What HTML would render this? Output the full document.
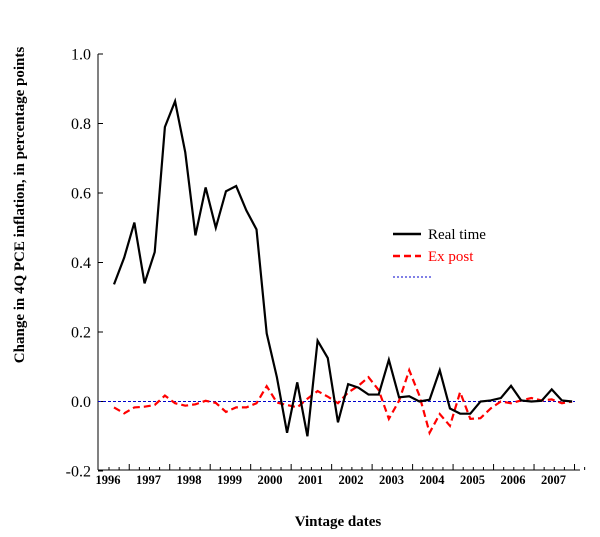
<!DOCTYPE html>
<html><head><meta charset="utf-8"><style>
body{margin:0;background:#fff;}
svg text{font-family:"Liberation Serif",serif;}
</style></head><body>
<svg id="c" width="600" height="532"></svg>
<script>
const years=["1996","1997","1998","1999","2000","2001","2002","2003","2004","2005","2006","2007"];
const yTicks=[-0.2,0,0.2,0.4,0.6,0.8,1.0];
const realTime=[0.337,0.414,0.515,0.34,0.43,0.79,0.864,0.717,0.478,0.616,0.50,0.605,0.62,0.55,0.495,0.196,0.07,-0.09,0.055,-0.10,0.175,0.125,-0.06,0.05,0.04,0.02,0.02,0.12,0.012,0.015,0,0.005,0.09,-0.02,-0.035,-0.035,0,0.003,0.01,0.045,0.003,0,0.002,0.035,0.003,0];
const exPost=[-0.017,-0.034,-0.017,-0.015,-0.01,0.017,-0.005,-0.012,-0.008,0.002,-0.004,-0.03,-0.017,-0.017,-0.005,0.044,-0.003,-0.01,-0.017,0.008,0.03,0.014,-0.005,0.026,0.045,0.07,0.033,-0.05,0.002,0.09,0.017,-0.09,-0.036,-0.07,0.027,-0.05,-0.048,-0.02,0,-0.005,0.003,0.01,0.003,0.006,-0.005,0];
const NS="http://www.w3.org/2000/svg";
const svg=document.getElementById('c');
function mk(t,a,p){const e=document.createElementNS(NS,t);for(const k in a)e.setAttribute(k,a[k]);(p||svg).appendChild(e);return e;}
const y=v=>401.5-v*347.5;
const x=i=>114+i*10.18;
const yearX=j=>108+j*40.5;
let e=mk('line',{x1:98,y1:54,x2:98,y2:470,stroke:'#000','stroke-width':1});

e=mk('line',{x1:98,y1:470,x2:580,y2:470,stroke:'#000','stroke-width':1});

yTicks.forEach(v=>{
 mk('line',{x1:98,y1:y(v),x2:103,y2:y(v),stroke:'#000'});
 const t=mk('text',{x:91,y:y(v)+5.5,'text-anchor':'end','font-size':16});t.textContent=v.toFixed(1);
 
});
for(let k=0;k<48;k++){const xx=109+k*10.12;const major=(k%4===2);mk('line',{x1:xx,y1:470,x2:xx,y2:major?464:467,stroke:'#000'});}
years.forEach((yr,j)=>{const t=mk('text',{x:yearX(j),y:484,'text-anchor':'middle','font-size':12.5,'font-weight':'bold'});t.textContent=yr;
 });
e=mk('line',{x1:98,y1:y(0),x2:575,y2:y(0),stroke:'#0000cc','stroke-width':1,'stroke-dasharray':'3,2'});

function series(d,col,dash,name){const p=mk('polyline',{points:d.map((v,i)=>x(i)+','+y(v)).join(' '),fill:'none',stroke:col,'stroke-width':2.2,'stroke-dasharray':dash||'none'});
 }
series(exPost,'#ff0000','7,4','ex-post-line');
series(realTime,'#000','','real-time-line');
const lg=mk('g',{});
mk('line',{x1:393,y1:234,x2:421,y2:234,stroke:'#000','stroke-width':2.5},lg);
let t=mk('text',{x:428,y:239,'font-size':15},lg);t.textContent='Real time';

mk('line',{x1:393,y1:256,x2:421,y2:256,stroke:'#ff0000','stroke-width':2.5,'stroke-dasharray':'7,4'},lg);
t=mk('text',{x:428,y:261,'font-size':15,fill:'#ff0000'},lg);t.textContent='Ex post';

mk('line',{x1:393,y1:277,x2:433,y2:277,stroke:'#0000cc','stroke-width':1,'stroke-dasharray':'2,2'},lg);
t=mk('text',{x:0,y:0,'font-size':15,'font-weight':'bold','text-anchor':'middle',transform:'translate(24,205) rotate(-90)'});
t.textContent='Change in 4Q PCE inflation, in percentage points';

t=mk('text',{x:338,y:526,'font-size':15,'font-weight':'bold','text-anchor':'middle'});t.textContent='Vintage dates';

</script>
</body></html>
